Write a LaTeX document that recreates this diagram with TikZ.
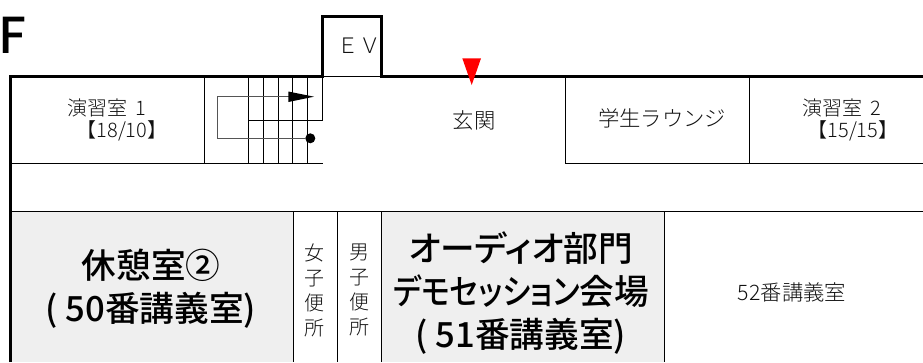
\documentclass[tikz,border=0pt]{standalone}
\usepackage{fontspec}
\setmainfont{Noto Sans CJK JP}[UprightFont={* Light},BoldFont={* Medium}]
\newfontfamily\mediumcjk{Noto Sans CJK JP Medium}[RawFeature=+palt]
\definecolor{roomgray}{HTML}{EFEFEF}
\definecolor{railgray}{HTML}{555555}
\definecolor{lbl}{HTML}{111111}
\tikzset{
  wall/.style={line width=2.25pt,line join=miter},
  thin/.style={line width=0.75pt},
  room/.style={font=\fontsize{15}{18}\selectfont,text=lbl,align=left,anchor=west,inner sep=0pt},
  roomb/.style={font=\fontsize{16}{18}\selectfont,text=lbl,align=center,inner sep=0pt},
  vert/.style={font=\fontsize{15}{18.7}\selectfont,text=lbl,align=center,inner sep=0pt},
  big/.style={font=\mediumcjk\fontsize{26}{32}\selectfont,text=black,align=center,inner sep=0pt},
}
\begin{document}
\begin{tikzpicture}[x=0.75pt,y=-0.75pt]
\useasboundingbox (0,0) rectangle (923,362);
\fill[roomgray] (10,211) rectangle (293,362);
\fill[roomgray] (381,211) rectangle (664,362);
% thin room lines
\draw[thin] (10,163) -- (323,163);
\draw[thin] (565,163) -- (923,163);
\draw[thin] (10,211) -- (923,211);
\draw[thin] (204.5,76) -- (204.5,163);
\draw[thin] (565,76) -- (565,163);
\draw[thin] (749.5,76) -- (749.5,163);
\foreach \x in {293,337.5,381,664} \draw[thin] (\x,211) -- (\x,362);
\draw[thin] (322,76) -- (382,76);
% stairs
\foreach \x in {248.3,263.3,278.3,292.3,307.3} \draw[thin] (\x,76) -- (\x,163);
\draw[thin] (322.7,76) -- (322.7,120.3) -- (248.3,120.3);
\draw[thin,railgray] (300,96.7) -- (217.3,96.7) -- (217.3,138.3) -- (305,138.3);
\fill (288.3,91.5) -- (314,96.7) -- (288.3,102) -- cycle;
\fill (310.3,138.3) circle (5);
% walls
\draw[wall] (10,362) -- (10,76) -- (322.5,76) -- (322.5,16.5) -- (381.5,16.5) -- (381.5,76) -- (923,76);
\fill[red] (462.3,58.3) -- (481,58.3) -- (471.7,85) -- cycle;
% texts
\node[font=\bfseries\fontsize{37}{37}\selectfont,inner sep=0pt] (floor) at (12,35) {F};
\node[roomb] (ev) at (359,46) {ＥＶ};
\node[room] (r1) at (67,120) {演習室\hspace{3pt} 1\\[-2pt]\hspace*{7pt}【18/10】};
\node[roomb] (gk) at (474,120) {玄関};
\node[roomb] (lounge) at (662,118) {学生ラウンジ};
\node[room] (r2) at (802,120) {演習室\hspace{3pt} 2\\[-2pt]\hspace*{4pt}【15/15】};
\node[big] (rest) at (151,289) {休憩室②\\( 50番講義室)};
\node[vert] (wc1) at (314,290) {女\\子\\便\\所};
\node[vert] (wc2) at (359,290) {男\\子\\便\\所};
\node[big] (audio) at (521,293) {オーディオ部門\\\scalebox{0.87}[1]{デモセッション}会場\\( 51番講義室)};
\node[roomb] (r52) at (792,292) {52番講義室};
\end{tikzpicture}
\end{document}
